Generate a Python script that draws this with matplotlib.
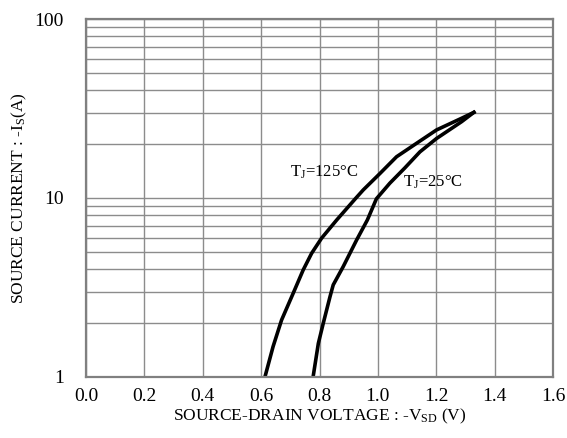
import matplotlib.pyplot as plt
from matplotlib.ticker import FixedLocator, NullFormatter

plt.rcParams['font.family'] = ['Liberation Serif', 'DejaVu Serif']
plt.rcParams['mathtext.fontset'] = 'custom'
plt.rcParams['mathtext.rm'] = 'Liberation Serif'
plt.rcParams['mathtext.it'] = 'Liberation Serif'

# Tj = 125 C
v_125 = [0.613, 0.641, 0.670, 0.710, 0.744, 0.773, 0.807, 0.859, 0.925, 0.950,
         1.007, 1.064, 1.144, 1.201, 1.287, 1.329]
i_125 = [1.0, 1.48, 2.08, 2.94, 3.96, 4.91, 5.96, 7.54, 10.0, 11.1,
         13.7, 17.0, 20.8, 24.0, 27.9, 30.1]

# Tj = 25 C
v_25 = [0.778, 0.796, 0.813, 0.836, 0.847, 0.881, 0.927, 0.964, 0.995, 1.041,
        1.092, 1.144, 1.201, 1.287, 1.329]
i_25 = [1.0, 1.54, 2.0, 2.81, 3.27, 4.13, 5.82, 7.54, 9.9, 12.1,
        14.7, 18.1, 21.5, 26.7, 30.1]

x_ticks = [0.0, 0.2, 0.4, 0.6, 0.8, 1.0, 1.2, 1.4, 1.6]
y_ticks = [1, 10, 100]
y_minor = [2, 3, 4, 5, 6, 7, 8, 9, 20, 30, 40, 50, 60, 70, 80, 90]

fig = plt.figure(figsize=(5.67, 4.38), dpi=100)
ax = fig.add_axes([0.1517, 0.1393, 0.8236, 0.8173])

ax.set_yscale('log')
ax.set_xlim(0, 1.6)
ax.set_ylim(1, 100)

ax.xaxis.set_major_locator(FixedLocator(x_ticks))
ax.yaxis.set_major_locator(FixedLocator(y_ticks))
ax.yaxis.set_minor_locator(FixedLocator(y_minor))
ax.yaxis.set_minor_formatter(NullFormatter())
ax.set_xticklabels([f"{v:.1f}" for v in x_ticks])
ax.set_yticklabels([str(v) for v in y_ticks])

ax.grid(True, which='both', color='#8c8c8c', linewidth=1.0)
ax.set_axisbelow(True)
for s in ax.spines.values():
    s.set_color('#808080')
    s.set_linewidth(1.6)

ax.tick_params(which='both', length=0, labelsize=14, pad=8)
ax.tick_params(axis='y', pad=16)

ax.plot(v_125, i_125, color='black', linewidth=2.6)
ax.plot(v_25, i_25, color='black', linewidth=2.6)

ax.text(0.699, 14.0, r'T$_\mathrm{J}$=125°C', fontsize=12, ha='left', va='center')
ax.text(1.086, 12.3, r'T$_\mathrm{J}$=25°C', fontsize=12, ha='left', va='center')

ax.set_xlabel(r'SOURCE-DRAIN VOLTAGE : -V$_\mathrm{SD}$ (V)', fontsize=12.5, labelpad=1)
ax.set_ylabel(r'SOURCE CURRENT : -I$_\mathrm{S}$(A)', fontsize=12.5, labelpad=4)

plt.savefig('out.png', dpi=100)
